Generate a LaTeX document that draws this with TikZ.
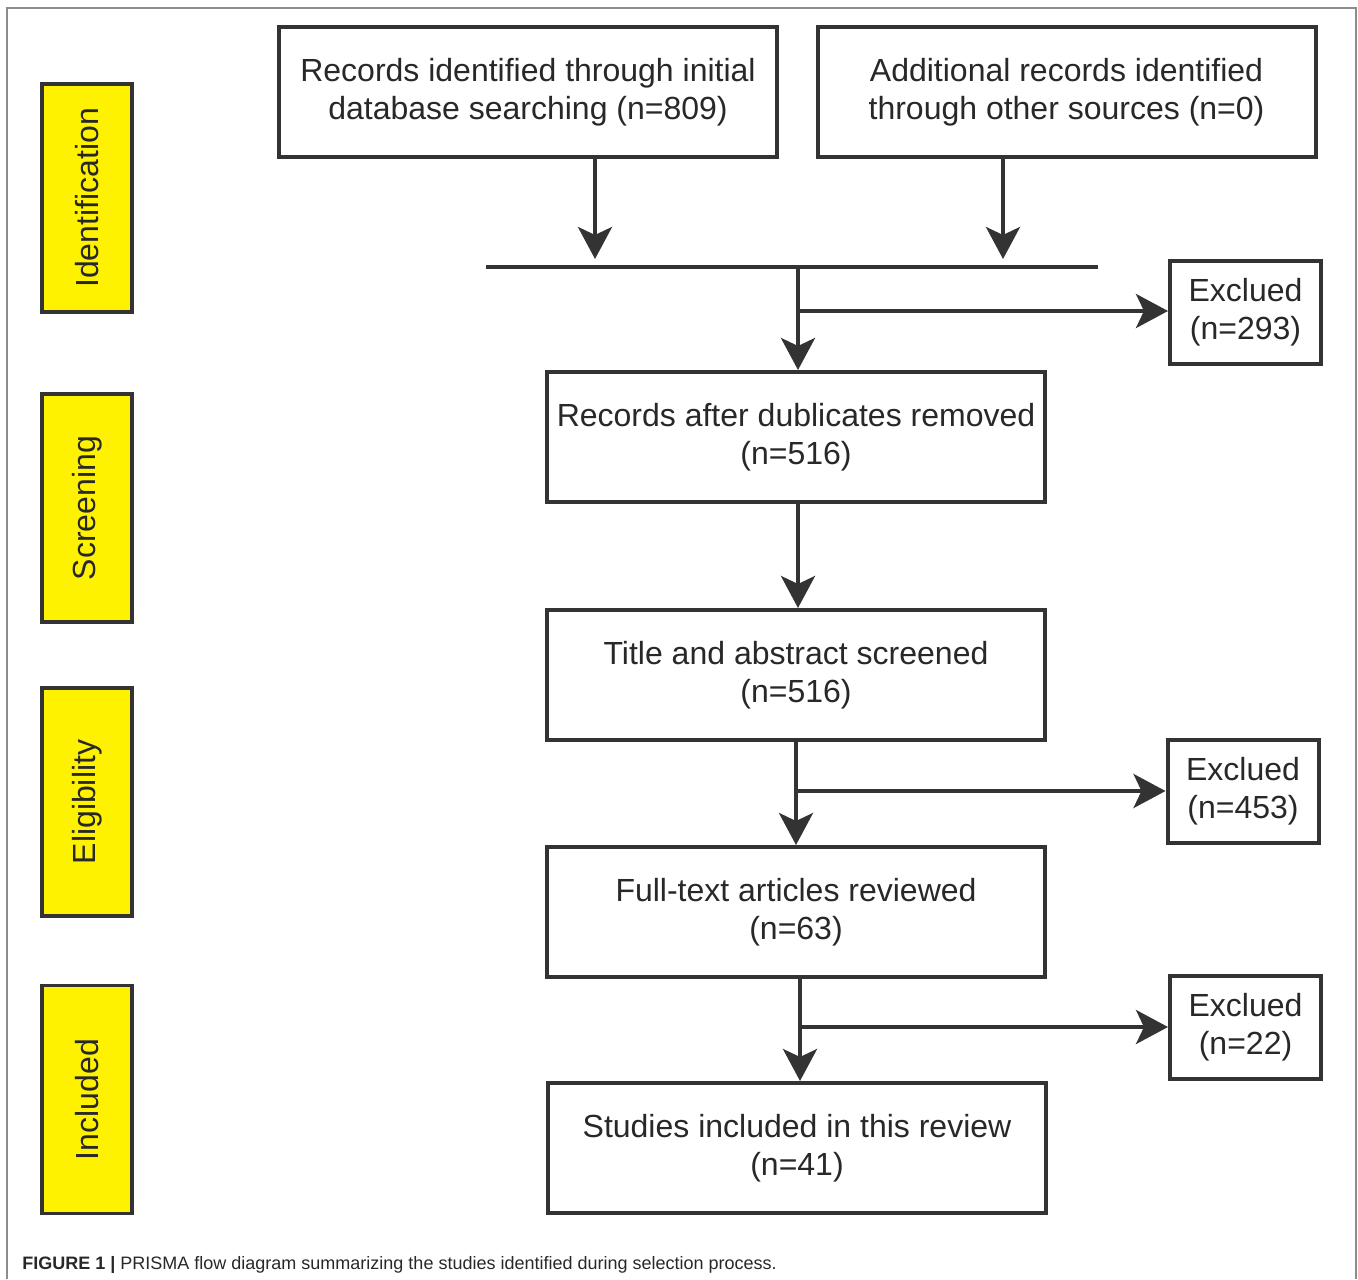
\documentclass[tikz,border=0pt]{standalone}
\usepackage{fontspec}
\setmainfont{Liberation Sans}
\usetikzlibrary{arrows.meta}
\definecolor{ink}{RGB}{51,51,51}
\definecolor{txt}{RGB}{40,40,40}
\definecolor{lab}{RGB}{255,242,0}
\definecolor{frame}{RGB}{140,140,140}
\begin{document}
\begin{tikzpicture}[x=0.5pt,y=-0.5pt,
  box/.style={draw=ink, line width=2pt, fill=white, align=center, text=txt,
    font=\fontsize{16pt}{19pt}\selectfont, inner sep=0pt},
  mainbox/.style={box, minimum width=249pt, minimum height=65pt},
  exbox/.style={box, minimum width=75.5pt, minimum height=51.5pt},
  ylab/.style={draw=ink, line width=1.6pt, fill=lab, text=txt, rotate=90,
    minimum width=114pt, minimum height=45pt, inner sep=0pt,
    font=\fontsize{16pt}{19pt}\selectfont},
  conn/.style={draw=ink, line width=2pt},
  arr/.style={conn, -{Stealth[length=16pt, width=17pt, inset=4pt]}}]
\useasboundingbox (0,0) rectangle (1358,1279);
% frame
\draw[frame, line width=1pt] (7,1279) -- (7,8) -- (1356,8) -- (1356,1279);
% stage labels
\node[ylab] (l1) at (87,198) {Identification};
\node[ylab] (l2) at (87,508) {Screening};
\node[ylab] (l3) at (87,802) {Eligibility};
\node[ylab] (l4) at (87,1099.5) {Included};
% main boxes
\node[mainbox] (b1) at (528,92) {Records identified through initial\\database searching (n=809)};
\node[mainbox] (b2) at (1066.5,92) {Additional records identified\\through other sources (n=0)};
\node[mainbox] (b3) at (796,437) {Records after dublicates removed\\(n=516)};
\node[mainbox] (b4) at (796,675) {Title and abstract screened\\(n=516)};
\node[mainbox] (b5) at (796,912) {Full-text articles reviewed\\(n=63)};
\node[mainbox] (b6) at (797,1148) {Studies included in this review\\(n=41)};
% excluded boxes
\node[exbox] (e1) at (1245.5,312.5) {Exclued\\(n=293)};
\node[exbox] (e2) at (1243,791) {Exclued\\(n=453)};
\node[exbox] (e3) at (1245.5,1027.5) {Exclued\\(n=22)};
% merge
\coordinate (mL) at (486,267);
\coordinate (mR) at (1098,267);
\coordinate (mC) at (798,267);
\coordinate (t1) at (595,259);
\coordinate (t2) at (1003,259);
\draw[conn] (mL) -- (mR);
\draw[arr] (b1.south -| t1) -- (t1);
\draw[arr] (b2.south -| t2) -- (t2);
\draw[arr] (mC) -- (mC |- b3.north);
\coordinate (k1) at (798,311);
\draw[arr] (k1) -- (k1 -| e1.west);
% screening
\draw[arr] (b3.south -| mC) -- (b4.north -| mC);
% eligibility
\coordinate (k2) at (796,791);
\draw[arr] (b4.south -| k2) -- (b5.north -| k2);
\draw[arr] (k2) -- (k2 -| e2.west);
% included
\coordinate (k3) at (800,1027);
\draw[arr] (b5.south -| k3) -- (b6.north -| k3);
\draw[arr] (k3) -- (k3 -| e3.west);
% caption
\node[anchor=base west, inner sep=0pt, text=txt, font=\fontsize{9pt}{11pt}\selectfont] (cap) at (22,1269)
  {\textbf{FIGURE 1 |} PRISMA flow diagram summarizing the studies identified during selection process.};
\end{tikzpicture}
\end{document}
